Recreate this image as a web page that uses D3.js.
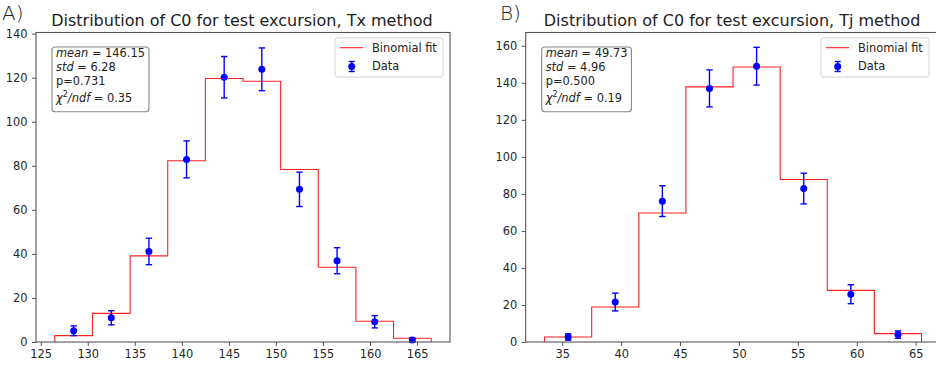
<!DOCTYPE html>
<html>
<head>
<meta charset="utf-8">
<script src="https://cdn.jsdelivr.net/npm/d3@7"></script>
<style>
body { margin: 0; background: white; }
svg { display: block; font-family: "DejaVu Sans", sans-serif; }
</style>
</head>
<body>
<script>
// panel A: Tx method
var binsA = [128.5, 132.5, 136.5, 140.5, 144.5, 148.5, 152.5, 156.5, 160.5, 164.5]
var fitA = [2.9, 13.0, 39.1, 82.3, 119.6, 118.4, 78.3, 33.9, 9.4, 1.7]
var dataA = [5.1, 11.0, 41.1, 82.9, 120.2, 123.8, 69.3, 36.9, 9.2, 0.9]
var errA = [2.2, 3.2, 6.0, 8.4, 9.4, 9.7, 7.8, 5.9, 2.8, 0.9]
var xTicksA = [125, 130, 135, 140, 145, 150, 155, 160, 165]
var yTicksA = [0, 20, 40, 60, 80, 100, 120, 140]
var statsA = ['146.15', '6.28', '0.731', '0.35']

// panel B: Tj method
var binsB = [35.5, 39.5, 43.5, 47.5, 51.5, 55.5, 59.5, 63.5]
var fitB = [2.7, 18.9, 69.7, 137.8, 148.6, 87.8, 27.9, 4.5]
var dataB = [2.7, 21.6, 76.1, 137.0, 149.0, 82.9, 25.8, 4.0]
var errB = [1.7, 4.8, 8.3, 10.0, 10.2, 8.3, 5.1, 2.0]
var xTicksB = [35, 40, 45, 50, 55, 60, 65]
var yTicksB = [0, 20, 40, 60, 80, 100, 120, 140, 160]
var statsB = ['49.73', '4.96', '0.500', '0.19']

var width = 936,
	height = 366

var svg = d3.select('body').append('svg')
	.attr('width', width)
	.attr('height', height)

createPanel({
	label: 'A)', labelX: 2,
	title: 'Distribution of C0 for test excursion, Tx method',
	left: 36, right: 450, top: 32.5, bottom: 342,
	xDomain: [124.5, 168.5], yDomain: [0, 140.5],
	bins: binsA, fit: fitA, data: dataA, err: errA,
	xTicks: xTicksA, yTicks: yTicksA, stats: statsA
})

createPanel({
	label: 'B)', labelX: 500,
	title: 'Distribution of C0 for test excursion, Tj method',
	left: 525.7, right: 940.4, top: 32.5, bottom: 342,
	xDomain: [31.9, 67.1], yDomain: [0, 167.2],
	bins: binsB, fit: fitB, data: dataB, err: errB,
	xTicks: xTicksB, yTicks: yTicksB, stats: statsB
})


function createPanel(o) {
	var x = d3.scaleLinear().domain(o.xDomain).range([o.left, o.right])
	var y = d3.scaleLinear().domain(o.yDomain).range([o.bottom, o.top])
	var g = svg.append('g')

	// panel letter + title
	g.append('text')
		.attr('x', o.labelX)
		.attr('y', 20)
		.attr('font-size', 20)
		.attr('font-weight', 300)
		.attr('fill', '#222')
		.text(o.label)

	g.append('text')
		.attr('x', (o.left + o.right) / 2 - 1)
		.attr('y', 25.7)
		.attr('text-anchor', 'middle')
		.attr('font-size', 16)
		.attr('fill', '#222')
		.text(o.title)

	// axes
	var xAxis = g.append('g')
		.attr('transform', 'translate(0,' + o.bottom + ')')
		.call(d3.axisBottom(x).tickValues(o.xTicks).tickSizeInner(4).tickSizeOuter(0).tickPadding(3.5))
	var yAxis = g.append('g')
		.attr('transform', 'translate(' + o.left + ',0)')
		.call(d3.axisLeft(y).tickValues(o.yTicks).tickSizeInner(4).tickSizeOuter(0).tickPadding(4.5))

	;[xAxis, yAxis].forEach(function(a) {
		a.select('.domain').remove()
		a.selectAll('text')
			.attr('font-family', '"DejaVu Sans", sans-serif')
			.attr('font-size', 11.4)
			.attr('fill', '#262626')
		a.selectAll('line').attr('stroke', '#555')
	})

	// step outline of the binomial fit
	var bw = o.bins[1] - o.bins[0]
	var pts = [[o.bins[0] - bw / 2, 0]]
	o.bins.forEach(function(b, i) {
		pts.push([b - bw / 2, o.fit[i]])
		pts.push([b + bw / 2, o.fit[i]])
	})
	pts.push([o.bins[o.bins.length - 1] + bw / 2, 0])

	g.append('path')
		.datum(pts)
		.attr('d', d3.line().x(d => x(d[0])).y(d => y(d[1])))
		.attr('fill', 'none')
		.attr('stroke', '#ff2020')
		.attr('stroke-width', 1.1)

	// data points with error bars
	var pts2 = o.bins.map((b, i) => ({ b: b, v: o.data[i], e: o.err[i] }))
	var eb = g.append('g').selectAll('g')
		.data(pts2)
		.enter()
		.append('g')
			.attr('stroke', '#0000ff')
			.attr('stroke-width', 1.4)

	eb.append('line')
		.attr('x1', d => x(d.b)).attr('x2', d => x(d.b))
		.attr('y1', d => y(d.v - d.e)).attr('y2', d => y(d.v + d.e))
	eb.append('line')
		.attr('x1', d => x(d.b) - 3.2).attr('x2', d => x(d.b) + 3.2)
		.attr('y1', d => y(d.v + d.e)).attr('y2', d => y(d.v + d.e))
	eb.append('line')
		.attr('x1', d => x(d.b) - 3.2).attr('x2', d => x(d.b) + 3.2)
		.attr('y1', d => y(d.v - d.e)).attr('y2', d => y(d.v - d.e))
	eb.append('circle')
		.attr('cx', d => x(d.b))
		.attr('cy', d => y(d.v))
		.attr('r', 3.5)
		.attr('fill', '#0000ff')
		.attr('stroke', 'none')

	// frame
	g.append('rect')
		.attr('x', o.left).attr('y', o.top)
		.attr('width', o.right - o.left).attr('height', o.bottom - o.top)
		.attr('fill', 'none')
		.attr('stroke', '#555')
		.attr('stroke-width', 1.1)

	// stats box
	var sb = g.append('g')
	var bx = o.left + 16, by = o.top + 14.5
	var box = sb.append('rect')
		.attr('x', bx).attr('y', by)
		.attr('rx', 3)
		.attr('height', 64.7)
		.attr('fill', 'white')
		.attr('stroke', '#888')
		.attr('stroke-width', 1.1)
	var st = sb.append('text')
		.attr('font-size', 11.4)
		.attr('fill', '#222')

	var l1 = st.append('tspan').attr('x', bx + 4).attr('y', by + 9.5)
	l1.append('tspan').attr('font-style', 'italic').text('mean')
	l1.append('tspan').text(' = ' + o.stats[0])
	var l2 = st.append('tspan').attr('x', bx + 4).attr('y', by + 24)
	l2.append('tspan').attr('font-style', 'italic').text('std')
	l2.append('tspan').text(' = ' + o.stats[1])
	st.append('tspan').attr('x', bx + 4).attr('y', by + 38).text('p=' + o.stats[2])
	var l4 = st.append('tspan').attr('x', bx + 4).attr('y', by + 54.7)
	l4.append('tspan').attr('font-style', 'italic').text('χ')
	l4.append('tspan').attr('font-size', 8).attr('dy', -5).text('2')
	l4.append('tspan').attr('font-style', 'italic').attr('dy', 5).text('/ndf')
	l4.append('tspan').text(' = ' + o.stats[3])

	box.attr('width', st.node().getBBox().width + 7)

	// legend
	var lx = Math.min(o.right, width) - 7 - 108, ly = o.top + 5.5
	var lg = g.append('g')
	lg.append('rect')
		.attr('x', lx).attr('y', ly)
		.attr('width', 108).attr('height', 39)
		.attr('rx', 2.5)
		.attr('fill', 'white')
		.attr('fill-opacity', 0.8)
		.attr('stroke', '#d0d0d0')
	lg.append('line')
		.attr('x1', lx + 5).attr('x2', lx + 28)
		.attr('y1', ly + 9.7).attr('y2', ly + 9.7)
		.attr('stroke', '#ff2020')
		.attr('stroke-width', 1.1)
	var lm = lg.append('g')
		.attr('stroke', '#0000ff')
		.attr('stroke-width', 1.4)
	lm.append('line')
		.attr('x1', lx + 16.7).attr('x2', lx + 16.7)
		.attr('y1', ly + 23.5).attr('y2', ly + 33.5)
	lm.append('line')
		.attr('x1', lx + 13.7).attr('x2', lx + 19.7)
		.attr('y1', ly + 23.5).attr('y2', ly + 23.5)
	lm.append('line')
		.attr('x1', lx + 13.7).attr('x2', lx + 19.7)
		.attr('y1', ly + 33.5).attr('y2', ly + 33.5)
	lm.append('circle')
		.attr('cx', lx + 16.7).attr('cy', ly + 28.5)
		.attr('r', 3.5)
		.attr('fill', '#0000ff')
		.attr('stroke', 'none')
	lg.selectAll('text.leg')
		.data(['Binomial fit', 'Data'])
		.enter()
		.append('text')
			.attr('x', lx + 37)
			.attr('y', (d, i) => ly + 13.8 + i * 18.6)
			.attr('font-size', 11.4)
			.attr('fill', '#222')
			.text(d => d)
}
</script>
</body>
</html>
